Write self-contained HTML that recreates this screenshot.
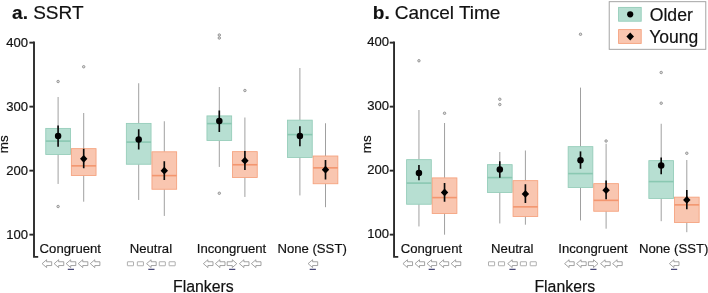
<!DOCTYPE html>
<html><head><meta charset="utf-8"><title>Flanker boxplots</title>
<style>
html,body{margin:0;padding:0;background:#fff;}
body{width:708px;height:293px;overflow:hidden;}
svg{display:block;}
svg text{font-family:"Liberation Sans",Arial,Helvetica,sans-serif;fill:#111;stroke:#111;stroke-width:0.18px;}
</style></head><body>
<svg width="708" height="293" viewBox="0 0 708 293">
<rect width="708" height="293" fill="#fff"/>
<line x1="58.1" y1="97" x2="58.1" y2="128.4" stroke="#a0a0a0" stroke-width="1"/>
<line x1="58.1" y1="154.5" x2="58.1" y2="183.95" stroke="#a0a0a0" stroke-width="1"/>
<rect x="45.75" y="128.4" width="24.7" height="26.10" fill="#b7dfd2" stroke="#93ccb8" stroke-width="0.85"/>
<line x1="45.75" y1="141.1" x2="70.45" y2="141.1" stroke="#8ac8b2" stroke-width="1.6"/>
<circle cx="58.1" cy="81.5" r="1.25" fill="#dcdcdc" stroke="#7a7a7a" stroke-width="0.7"/>
<circle cx="58.1" cy="206.5" r="1.25" fill="#dcdcdc" stroke="#7a7a7a" stroke-width="0.7"/>
<line x1="58.1" y1="125.5" x2="58.1" y2="146.75" stroke="#0a0a0a" stroke-width="1.65"/>
<circle cx="58.1" cy="135.95" r="3.25" fill="#000"/>
<line x1="83.7" y1="113" x2="83.7" y2="148.65" stroke="#a0a0a0" stroke-width="1"/>
<line x1="83.7" y1="175.5" x2="83.7" y2="201.7" stroke="#a0a0a0" stroke-width="1"/>
<rect x="71.35" y="148.65" width="24.7" height="26.85" fill="#f9c6b0" stroke="#f5a07c" stroke-width="0.85"/>
<line x1="71.35" y1="165.85" x2="96.05" y2="165.85" stroke="#f3966f" stroke-width="1.6"/>
<circle cx="83.7" cy="66.75" r="1.25" fill="#dcdcdc" stroke="#7a7a7a" stroke-width="0.7"/>
<line x1="83.7" y1="148.75" x2="83.7" y2="168.25" stroke="#0a0a0a" stroke-width="1.65"/>
<path d="M83.7 154.9L87.40 158.8L83.7 162.70000000000002L80.00 158.8Z" fill="#000"/>
<line x1="138.7" y1="83.25" x2="138.7" y2="123.4" stroke="#a0a0a0" stroke-width="1"/>
<line x1="138.7" y1="164.25" x2="138.7" y2="199.95" stroke="#a0a0a0" stroke-width="1"/>
<rect x="126.35" y="123.4" width="24.7" height="40.85" fill="#b7dfd2" stroke="#93ccb8" stroke-width="0.85"/>
<line x1="126.35" y1="142.1" x2="151.05" y2="142.1" stroke="#8ac8b2" stroke-width="1.6"/>
<line x1="138.7" y1="129.25" x2="138.7" y2="149.5" stroke="#0a0a0a" stroke-width="1.65"/>
<circle cx="138.7" cy="139.45" r="3.25" fill="#000"/>
<line x1="164.3" y1="121.25" x2="164.3" y2="151.8" stroke="#a0a0a0" stroke-width="1"/>
<line x1="164.3" y1="189.25" x2="164.3" y2="215.95" stroke="#a0a0a0" stroke-width="1"/>
<rect x="151.95" y="151.8" width="24.7" height="37.45" fill="#f9c6b0" stroke="#f5a07c" stroke-width="0.85"/>
<line x1="151.95" y1="175.6" x2="176.65" y2="175.6" stroke="#f3966f" stroke-width="1.6"/>
<line x1="164.3" y1="161.25" x2="164.3" y2="180" stroke="#0a0a0a" stroke-width="1.65"/>
<path d="M164.3 166.79999999999998L168.00 170.7L164.3 174.6L160.60 170.7Z" fill="#000"/>
<line x1="219.3" y1="87" x2="219.3" y2="115.9" stroke="#a0a0a0" stroke-width="1"/>
<line x1="219.3" y1="140.5" x2="219.3" y2="166.95" stroke="#a0a0a0" stroke-width="1"/>
<rect x="206.95" y="115.9" width="24.7" height="24.60" fill="#b7dfd2" stroke="#93ccb8" stroke-width="0.85"/>
<line x1="206.95" y1="123.6" x2="231.65" y2="123.6" stroke="#8ac8b2" stroke-width="1.6"/>
<circle cx="219.3" cy="35" r="1.25" fill="#dcdcdc" stroke="#7a7a7a" stroke-width="0.7"/>
<circle cx="219.3" cy="38" r="1.25" fill="#dcdcdc" stroke="#7a7a7a" stroke-width="0.7"/>
<circle cx="219.3" cy="193.25" r="1.25" fill="#dcdcdc" stroke="#7a7a7a" stroke-width="0.7"/>
<line x1="219.3" y1="110.5" x2="219.3" y2="132" stroke="#0a0a0a" stroke-width="1.65"/>
<circle cx="219.3" cy="120.95" r="3.25" fill="#000"/>
<line x1="244.9" y1="117.5" x2="244.9" y2="151.65" stroke="#a0a0a0" stroke-width="1"/>
<line x1="244.9" y1="177.5" x2="244.9" y2="196.95" stroke="#a0a0a0" stroke-width="1"/>
<rect x="232.55" y="151.65" width="24.7" height="25.85" fill="#f9c6b0" stroke="#f5a07c" stroke-width="0.85"/>
<line x1="232.55" y1="164.75" x2="257.25" y2="164.75" stroke="#f3966f" stroke-width="1.6"/>
<circle cx="244.9" cy="90.5" r="1.25" fill="#dcdcdc" stroke="#7a7a7a" stroke-width="0.7"/>
<line x1="244.9" y1="151" x2="244.9" y2="170" stroke="#0a0a0a" stroke-width="1.65"/>
<path d="M244.9 156.79999999999998L248.60 160.7L244.9 164.6L241.20 160.7Z" fill="#000"/>
<line x1="299.9" y1="68" x2="299.9" y2="120.15" stroke="#a0a0a0" stroke-width="1"/>
<line x1="299.9" y1="157.5" x2="299.9" y2="195.45" stroke="#a0a0a0" stroke-width="1"/>
<rect x="287.55" y="120.15" width="24.7" height="37.35" fill="#b7dfd2" stroke="#93ccb8" stroke-width="0.85"/>
<line x1="287.55" y1="134.6" x2="312.25" y2="134.6" stroke="#8ac8b2" stroke-width="1.6"/>
<line x1="299.9" y1="126.25" x2="299.9" y2="146.25" stroke="#0a0a0a" stroke-width="1.65"/>
<circle cx="299.9" cy="135.95" r="3.25" fill="#000"/>
<line x1="325.5" y1="123.25" x2="325.5" y2="156.0" stroke="#a0a0a0" stroke-width="1"/>
<line x1="325.5" y1="183.75" x2="325.5" y2="207.2" stroke="#a0a0a0" stroke-width="1"/>
<rect x="313.15" y="156.0" width="24.7" height="27.75" fill="#f9c6b0" stroke="#f5a07c" stroke-width="0.85"/>
<line x1="313.15" y1="167.85" x2="337.85" y2="167.85" stroke="#f3966f" stroke-width="1.6"/>
<line x1="325.5" y1="160" x2="325.5" y2="179.5" stroke="#0a0a0a" stroke-width="1.65"/>
<path d="M325.5 165.79999999999998L329.20 169.7L325.5 173.6L321.80 169.7Z" fill="#000"/>
<path d="M34.0 41.6V256.9H38.20" fill="none" stroke="#2b2b2b" stroke-width="1.9"/>
<line x1="29.40" y1="42.65" x2="34.0" y2="42.65" stroke="#2b2b2b" stroke-width="1.9"/>
<text x="28.10" y="47.00" text-anchor="end" font-size="13.1">400</text>
<line x1="29.40" y1="106.65" x2="34.0" y2="106.65" stroke="#2b2b2b" stroke-width="1.9"/>
<text x="28.10" y="111.00" text-anchor="end" font-size="13.1">300</text>
<line x1="29.40" y1="170.65" x2="34.0" y2="170.65" stroke="#2b2b2b" stroke-width="1.9"/>
<text x="28.10" y="175.00" text-anchor="end" font-size="13.1">200</text>
<line x1="29.40" y1="234.65" x2="34.0" y2="234.65" stroke="#2b2b2b" stroke-width="1.9"/>
<text x="28.10" y="239.00" text-anchor="end" font-size="13.1">100</text>
<text transform="translate(8.3 144.3) rotate(-90)" text-anchor="middle" font-size="13.5">ms</text>
<text x="70.30" y="252.5" text-anchor="middle" font-size="13.15">Congruent</text>
<text x="150.90" y="252.5" text-anchor="middle" font-size="13.15">Neutral</text>
<text x="231.50" y="252.5" text-anchor="middle" font-size="13.15">Incongruent</text>
<text x="312.10" y="252.5" text-anchor="middle" font-size="13.15">None (SST)</text>
<path d="M42.10 263.65L46.60 259.75L46.60 261.75L51.70 261.75L51.70 265.55L46.60 265.55L46.60 267.55Z" fill="#fff" stroke="#858585" stroke-width="0.75" stroke-linejoin="miter"/>
<path d="M54.15 263.65L58.65 259.75L58.65 261.75L63.75 261.75L63.75 265.55L58.65 265.55L58.65 267.55Z" fill="#fff" stroke="#858585" stroke-width="0.75" stroke-linejoin="miter"/>
<path d="M66.20 263.65L70.70 259.75L70.70 261.75L75.80 261.75L75.80 265.55L70.70 265.55L70.70 267.55Z" fill="#fff" stroke="#858585" stroke-width="0.75" stroke-linejoin="miter"/>
<path d="M78.25 263.65L82.75 259.75L82.75 261.75L87.85 261.75L87.85 265.55L82.75 265.55L82.75 267.55Z" fill="#fff" stroke="#858585" stroke-width="0.75" stroke-linejoin="miter"/>
<path d="M90.30 263.65L94.80 259.75L94.80 261.75L99.90 261.75L99.90 265.55L94.80 265.55L94.80 267.55Z" fill="#fff" stroke="#858585" stroke-width="0.75" stroke-linejoin="miter"/>
<line x1="67.80" y1="269.3" x2="74.00" y2="269.3" stroke="#1d1d58" stroke-width="1"/>
<rect x="127.40" y="261.75" width="6.1" height="4.0" rx="0.3" fill="#fff" stroke="#9c9c9c" stroke-width="0.8"/>
<rect x="137.35" y="261.75" width="6.1" height="4.0" rx="0.3" fill="#fff" stroke="#9c9c9c" stroke-width="0.8"/>
<rect x="159.25" y="261.75" width="6.1" height="4.0" rx="0.3" fill="#fff" stroke="#9c9c9c" stroke-width="0.8"/>
<rect x="169.10" y="261.75" width="6.1" height="4.0" rx="0.3" fill="#fff" stroke="#9c9c9c" stroke-width="0.8"/>
<path d="M146.60 263.65L151.10 259.75L151.10 261.75L156.20 261.75L156.20 265.55L151.10 265.55L151.10 267.55Z" fill="#fff" stroke="#858585" stroke-width="0.75" stroke-linejoin="miter"/>
<line x1="148.30" y1="269.3" x2="154.50" y2="269.3" stroke="#1d1d58" stroke-width="1"/>
<path d="M203.40 263.65L207.90 259.75L207.90 261.75L213.00 261.75L213.00 265.55L207.90 265.55L207.90 267.55Z" fill="#fff" stroke="#858585" stroke-width="0.75" stroke-linejoin="miter"/>
<path d="M215.40 263.65L219.90 259.75L219.90 261.75L225.00 261.75L225.00 265.55L219.90 265.55L219.90 267.55Z" fill="#fff" stroke="#858585" stroke-width="0.75" stroke-linejoin="miter"/>
<path d="M236.80 263.65L232.30 259.75L232.30 261.75L227.20 261.75L227.20 265.55L232.30 265.55L232.30 267.55Z" fill="#fff" stroke="#858585" stroke-width="0.75" stroke-linejoin="miter"/>
<path d="M239.40 263.65L243.90 259.75L243.90 261.75L249.00 261.75L249.00 265.55L243.90 265.55L243.90 267.55Z" fill="#fff" stroke="#858585" stroke-width="0.75" stroke-linejoin="miter"/>
<path d="M251.40 263.65L255.90 259.75L255.90 261.75L261.00 261.75L261.00 265.55L255.90 265.55L255.90 267.55Z" fill="#fff" stroke="#858585" stroke-width="0.75" stroke-linejoin="miter"/>
<line x1="229.10" y1="269.3" x2="235.30" y2="269.3" stroke="#1d1d58" stroke-width="1"/>
<path d="M308.10 263.65L312.60 259.75L312.60 261.75L317.70 261.75L317.70 265.55L312.60 265.55L312.60 267.55Z" fill="#fff" stroke="#858585" stroke-width="0.75" stroke-linejoin="miter"/>
<line x1="309.70" y1="269.3" x2="315.90" y2="269.3" stroke="#1d1d58" stroke-width="1"/>
<text x="203.40" y="291.55" text-anchor="middle" font-size="15.85">Flankers</text>
<text x="12.10" y="19.4" font-size="19" font-weight="bold">a.</text>
<text x="33.20" y="19.4" font-size="19">SSRT</text>
<line x1="418.95" y1="110" x2="418.95" y2="159.65" stroke="#a0a0a0" stroke-width="1"/>
<line x1="418.95" y1="204.25" x2="418.95" y2="226.45" stroke="#a0a0a0" stroke-width="1"/>
<rect x="406.60" y="159.65" width="24.7" height="44.60" fill="#b7dfd2" stroke="#93ccb8" stroke-width="0.85"/>
<line x1="406.60" y1="183.1" x2="431.30" y2="183.1" stroke="#8ac8b2" stroke-width="1.6"/>
<circle cx="418.95" cy="60.75" r="1.25" fill="#dcdcdc" stroke="#7a7a7a" stroke-width="0.7"/>
<line x1="418.95" y1="165" x2="418.95" y2="180.25" stroke="#0a0a0a" stroke-width="1.65"/>
<circle cx="418.95" cy="172.95" r="3.25" fill="#000"/>
<line x1="444.55" y1="123" x2="444.55" y2="177.9" stroke="#a0a0a0" stroke-width="1"/>
<line x1="444.55" y1="213.5" x2="444.55" y2="234.7" stroke="#a0a0a0" stroke-width="1"/>
<rect x="432.20" y="177.9" width="24.7" height="35.60" fill="#f9c6b0" stroke="#f5a07c" stroke-width="0.85"/>
<line x1="432.20" y1="197.6" x2="456.90" y2="197.6" stroke="#f3966f" stroke-width="1.6"/>
<circle cx="444.55" cy="113.25" r="1.25" fill="#dcdcdc" stroke="#7a7a7a" stroke-width="0.7"/>
<line x1="444.55" y1="183" x2="444.55" y2="201.75" stroke="#0a0a0a" stroke-width="1.65"/>
<path d="M444.55 188.54999999999998L448.25 192.45L444.55 196.35L440.85 192.45Z" fill="#000"/>
<line x1="499.8" y1="152" x2="499.8" y2="164.65" stroke="#a0a0a0" stroke-width="1"/>
<line x1="499.8" y1="192.5" x2="499.8" y2="223.45" stroke="#a0a0a0" stroke-width="1"/>
<rect x="487.45" y="164.65" width="24.7" height="27.85" fill="#b7dfd2" stroke="#93ccb8" stroke-width="0.85"/>
<line x1="487.45" y1="177.6" x2="512.15" y2="177.6" stroke="#8ac8b2" stroke-width="1.6"/>
<circle cx="499.8" cy="99.25" r="1.25" fill="#dcdcdc" stroke="#7a7a7a" stroke-width="0.7"/>
<circle cx="499.8" cy="104.5" r="1.25" fill="#dcdcdc" stroke="#7a7a7a" stroke-width="0.7"/>
<line x1="499.8" y1="161.25" x2="499.8" y2="177.75" stroke="#0a0a0a" stroke-width="1.65"/>
<circle cx="499.8" cy="169.45" r="3.25" fill="#000"/>
<line x1="525.4" y1="150.5" x2="525.4" y2="180.65" stroke="#a0a0a0" stroke-width="1"/>
<line x1="525.4" y1="216.5" x2="525.4" y2="224.7" stroke="#a0a0a0" stroke-width="1"/>
<rect x="513.05" y="180.65" width="24.7" height="35.85" fill="#f9c6b0" stroke="#f5a07c" stroke-width="0.85"/>
<line x1="513.05" y1="206.85" x2="537.75" y2="206.85" stroke="#f3966f" stroke-width="1.6"/>
<line x1="525.4" y1="184.25" x2="525.4" y2="203" stroke="#0a0a0a" stroke-width="1.65"/>
<path d="M525.4 190.04999999999998L529.10 193.95L525.4 197.85L521.70 193.95Z" fill="#000"/>
<line x1="580.5" y1="87.6" x2="580.5" y2="146.65" stroke="#a0a0a0" stroke-width="1"/>
<line x1="580.5" y1="187.5" x2="580.5" y2="220.45" stroke="#a0a0a0" stroke-width="1"/>
<rect x="568.15" y="146.65" width="24.7" height="40.85" fill="#b7dfd2" stroke="#93ccb8" stroke-width="0.85"/>
<line x1="568.15" y1="173.6" x2="592.85" y2="173.6" stroke="#8ac8b2" stroke-width="1.6"/>
<circle cx="580.5" cy="34.25" r="1.25" fill="#dcdcdc" stroke="#7a7a7a" stroke-width="0.7"/>
<line x1="580.5" y1="151.4" x2="580.5" y2="168.75" stroke="#0a0a0a" stroke-width="1.65"/>
<circle cx="580.5" cy="160.3" r="3.25" fill="#000"/>
<line x1="606.1" y1="143.75" x2="606.1" y2="183.65" stroke="#a0a0a0" stroke-width="1"/>
<line x1="606.1" y1="211.25" x2="606.1" y2="228.7" stroke="#a0a0a0" stroke-width="1"/>
<rect x="593.75" y="183.65" width="24.7" height="27.60" fill="#f9c6b0" stroke="#f5a07c" stroke-width="0.85"/>
<line x1="593.75" y1="200.35" x2="618.45" y2="200.35" stroke="#f3966f" stroke-width="1.6"/>
<circle cx="606.1" cy="141" r="1.25" fill="#dcdcdc" stroke="#7a7a7a" stroke-width="0.7"/>
<line x1="606.1" y1="180.5" x2="606.1" y2="199.25" stroke="#0a0a0a" stroke-width="1.65"/>
<path d="M606.1 186.29999999999998L609.80 190.2L606.1 194.1L602.40 190.2Z" fill="#000"/>
<line x1="661.2" y1="123.75" x2="661.2" y2="160.65" stroke="#a0a0a0" stroke-width="1"/>
<line x1="661.2" y1="198.5" x2="661.2" y2="221.2" stroke="#a0a0a0" stroke-width="1"/>
<rect x="648.85" y="160.65" width="24.7" height="37.85" fill="#b7dfd2" stroke="#93ccb8" stroke-width="0.85"/>
<line x1="648.85" y1="181.6" x2="673.55" y2="181.6" stroke="#8ac8b2" stroke-width="1.6"/>
<circle cx="661.2" cy="72.5" r="1.25" fill="#dcdcdc" stroke="#7a7a7a" stroke-width="0.7"/>
<circle cx="661.2" cy="103.2" r="1.25" fill="#dcdcdc" stroke="#7a7a7a" stroke-width="0.7"/>
<line x1="661.2" y1="157.5" x2="661.2" y2="174.25" stroke="#0a0a0a" stroke-width="1.65"/>
<circle cx="661.2" cy="165.45" r="3.25" fill="#000"/>
<line x1="686.8" y1="160" x2="686.8" y2="197.15" stroke="#a0a0a0" stroke-width="1"/>
<line x1="686.8" y1="222.5" x2="686.8" y2="232.2" stroke="#a0a0a0" stroke-width="1"/>
<rect x="674.45" y="197.15" width="24.7" height="25.35" fill="#f9c6b0" stroke="#f5a07c" stroke-width="0.85"/>
<line x1="674.45" y1="204.85" x2="699.15" y2="204.85" stroke="#f3966f" stroke-width="1.6"/>
<circle cx="686.8" cy="153.25" r="1.25" fill="#dcdcdc" stroke="#7a7a7a" stroke-width="0.7"/>
<line x1="686.8" y1="190" x2="686.8" y2="209.25" stroke="#0a0a0a" stroke-width="1.65"/>
<path d="M686.8 196.04999999999998L690.50 199.95L686.8 203.85L683.10 199.95Z" fill="#000"/>
<path d="M394.05 41.6V256.9H398.25" fill="none" stroke="#2b2b2b" stroke-width="1.9"/>
<line x1="389.75" y1="42.65" x2="394.05" y2="42.65" stroke="#2b2b2b" stroke-width="1.9"/>
<text x="389.15" y="46.20" text-anchor="end" font-size="13.1">400</text>
<line x1="389.75" y1="106.65" x2="394.05" y2="106.65" stroke="#2b2b2b" stroke-width="1.9"/>
<text x="389.15" y="110.20" text-anchor="end" font-size="13.1">300</text>
<line x1="389.75" y1="170.65" x2="394.05" y2="170.65" stroke="#2b2b2b" stroke-width="1.9"/>
<text x="389.15" y="174.20" text-anchor="end" font-size="13.1">200</text>
<line x1="389.75" y1="234.65" x2="394.05" y2="234.65" stroke="#2b2b2b" stroke-width="1.9"/>
<text x="389.15" y="238.20" text-anchor="end" font-size="13.1">100</text>
<text transform="translate(370.5 144.3) rotate(-90)" text-anchor="middle" font-size="13.5">ms</text>
<text x="431.45" y="252.5" text-anchor="middle" font-size="13.15">Congruent</text>
<text x="512.30" y="252.5" text-anchor="middle" font-size="13.15">Neutral</text>
<text x="593.00" y="252.5" text-anchor="middle" font-size="13.15">Incongruent</text>
<text x="673.70" y="252.5" text-anchor="middle" font-size="13.15">None (SST)</text>
<path d="M402.95 263.65L407.45 259.75L407.45 261.75L412.55 261.75L412.55 265.55L407.45 265.55L407.45 267.55Z" fill="#fff" stroke="#858585" stroke-width="0.75" stroke-linejoin="miter"/>
<path d="M415.00 263.65L419.50 259.75L419.50 261.75L424.60 261.75L424.60 265.55L419.50 265.55L419.50 267.55Z" fill="#fff" stroke="#858585" stroke-width="0.75" stroke-linejoin="miter"/>
<path d="M427.05 263.65L431.55 259.75L431.55 261.75L436.65 261.75L436.65 265.55L431.55 265.55L431.55 267.55Z" fill="#fff" stroke="#858585" stroke-width="0.75" stroke-linejoin="miter"/>
<path d="M439.10 263.65L443.60 259.75L443.60 261.75L448.70 261.75L448.70 265.55L443.60 265.55L443.60 267.55Z" fill="#fff" stroke="#858585" stroke-width="0.75" stroke-linejoin="miter"/>
<path d="M451.15 263.65L455.65 259.75L455.65 261.75L460.75 261.75L460.75 265.55L455.65 265.55L455.65 267.55Z" fill="#fff" stroke="#858585" stroke-width="0.75" stroke-linejoin="miter"/>
<line x1="428.65" y1="269.3" x2="434.85" y2="269.3" stroke="#1d1d58" stroke-width="1"/>
<rect x="488.50" y="261.75" width="6.1" height="4.0" rx="0.3" fill="#fff" stroke="#9c9c9c" stroke-width="0.8"/>
<rect x="498.45" y="261.75" width="6.1" height="4.0" rx="0.3" fill="#fff" stroke="#9c9c9c" stroke-width="0.8"/>
<rect x="520.35" y="261.75" width="6.1" height="4.0" rx="0.3" fill="#fff" stroke="#9c9c9c" stroke-width="0.8"/>
<rect x="530.20" y="261.75" width="6.1" height="4.0" rx="0.3" fill="#fff" stroke="#9c9c9c" stroke-width="0.8"/>
<path d="M507.70 263.65L512.20 259.75L512.20 261.75L517.30 261.75L517.30 265.55L512.20 265.55L512.20 267.55Z" fill="#fff" stroke="#858585" stroke-width="0.75" stroke-linejoin="miter"/>
<line x1="509.40" y1="269.3" x2="515.60" y2="269.3" stroke="#1d1d58" stroke-width="1"/>
<path d="M564.60 263.65L569.10 259.75L569.10 261.75L574.20 261.75L574.20 265.55L569.10 265.55L569.10 267.55Z" fill="#fff" stroke="#858585" stroke-width="0.75" stroke-linejoin="miter"/>
<path d="M576.60 263.65L581.10 259.75L581.10 261.75L586.20 261.75L586.20 265.55L581.10 265.55L581.10 267.55Z" fill="#fff" stroke="#858585" stroke-width="0.75" stroke-linejoin="miter"/>
<path d="M598.00 263.65L593.50 259.75L593.50 261.75L588.40 261.75L588.40 265.55L593.50 265.55L593.50 267.55Z" fill="#fff" stroke="#858585" stroke-width="0.75" stroke-linejoin="miter"/>
<path d="M600.60 263.65L605.10 259.75L605.10 261.75L610.20 261.75L610.20 265.55L605.10 265.55L605.10 267.55Z" fill="#fff" stroke="#858585" stroke-width="0.75" stroke-linejoin="miter"/>
<path d="M612.60 263.65L617.10 259.75L617.10 261.75L622.20 261.75L622.20 265.55L617.10 265.55L617.10 267.55Z" fill="#fff" stroke="#858585" stroke-width="0.75" stroke-linejoin="miter"/>
<line x1="590.30" y1="269.3" x2="596.50" y2="269.3" stroke="#1d1d58" stroke-width="1"/>
<path d="M669.40 263.65L673.90 259.75L673.90 261.75L679.00 261.75L679.00 265.55L673.90 265.55L673.90 267.55Z" fill="#fff" stroke="#858585" stroke-width="0.75" stroke-linejoin="miter"/>
<line x1="671.00" y1="269.3" x2="677.20" y2="269.3" stroke="#1d1d58" stroke-width="1"/>
<text x="564.80" y="291.55" text-anchor="middle" font-size="15.85">Flankers</text>
<text x="372.80" y="19.0" font-size="19" font-weight="bold">b.</text>
<text x="394.80" y="19.0" font-size="19">Cancel Time</text>
<rect x="609.2" y="1.7" width="96.6" height="47.6" fill="#fff" stroke="#9a9a9a" stroke-width="0.9"/>
<rect x="618.6" y="7.4" width="22.6" height="13.8" fill="#b7dfd2" stroke="#93ccb8" stroke-width="0.9"/>
<circle cx="630.2" cy="14.3" r="3.1" fill="#000"/>
<rect x="618.6" y="29.6" width="22.6" height="13.8" fill="#f9c6b0" stroke="#f5a07c" stroke-width="0.9"/>
<path d="M630.2 32.6L634 36.5L630.2 40.4L626.4 36.5Z" fill="#000"/>
<text x="649.7" y="21.3" font-size="17.65">Older</text>
<text x="649.2" y="43.3" font-size="17.5">Young</text>
</svg>
</body></html>
